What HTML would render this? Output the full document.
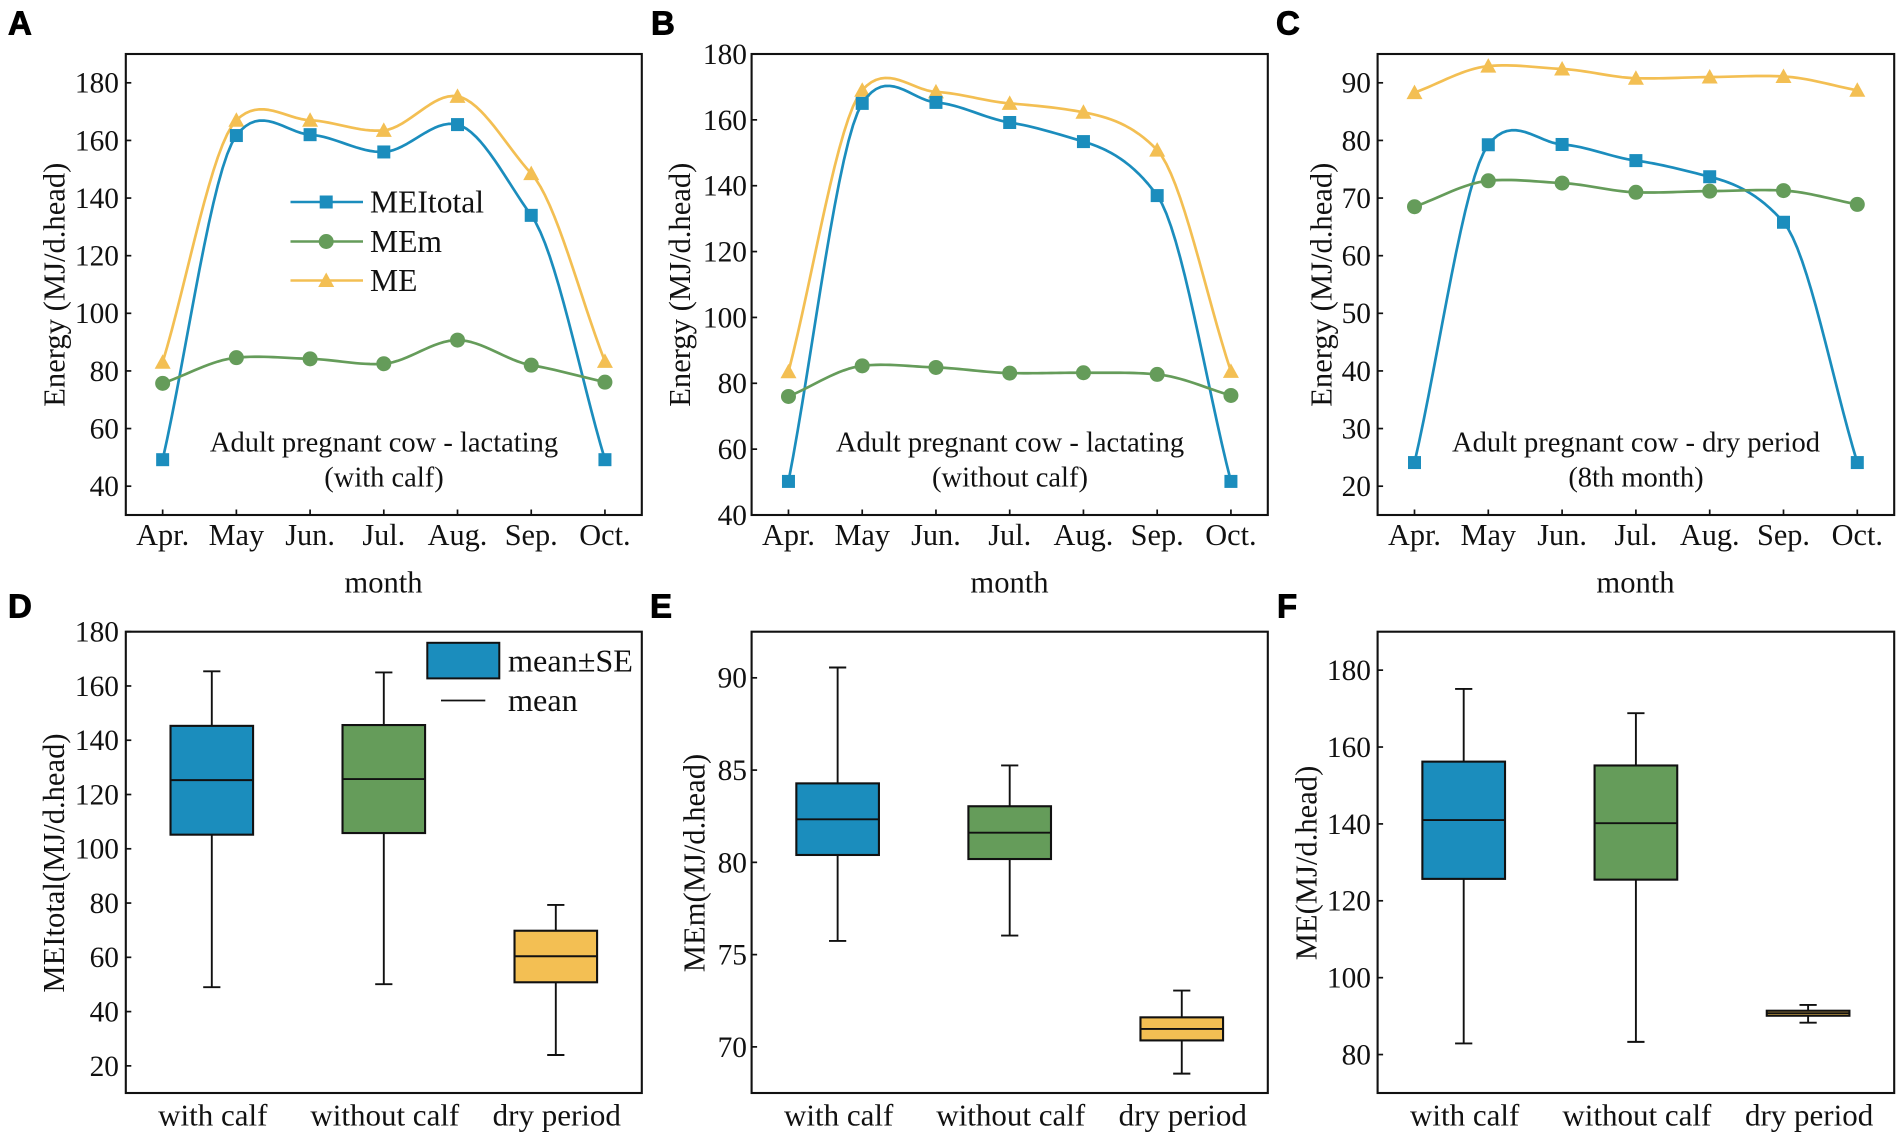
<!DOCTYPE html>
<html lang="en">
<head>
<meta charset="utf-8">
<title>Energy requirements of beef cows by month and period</title>
<style>
html,body{margin:0;padding:0;background:#fff;}
svg{display:block;}
text{font-family:"Liberation Serif",serif;fill:#111;}
.letter{font-family:"Liberation Sans",sans-serif;font-weight:700;font-size:33px;fill:#000;stroke:#000;stroke-width:.9px;}
.title{font-size:30.6px;}
.note{font-size:28.5px;text-anchor:middle;}
.legend{font-size:31.6px;}
.month{text-anchor:middle;font-size:30.6px;}
.frame{fill:none;stroke:#111;stroke-width:2.1;}
</style>
</head>
<body>
<svg id="figure" xmlns="http://www.w3.org/2000/svg" width="1901" height="1139" viewBox="0 0 1901 1139">
  <rect x="0" y="0" width="1901" height="1139" fill="#fff"/>

  <text class="letter" x="8" y="34.5">A</text>
  <text class="letter" x="651" y="34.5">B</text>
  <text class="letter" x="1276" y="34.5">C</text>
  <text class="letter" x="8" y="617.5">D</text>
  <text class="letter" x="650" y="617.5">E</text>
  <text class="letter" x="1277" y="617.5">F</text>

  <g id="panel-a"></g>
  <g id="panel-b"></g>
  <g id="panel-c"></g>
  <g id="panel-d"></g>
  <g id="panel-e"></g>
  <g id="panel-f"></g>

  <text class="title" text-anchor="middle" transform="translate(64.5 284.7) rotate(-90)">Energy (MJ/d.head)</text>
  <text class="title" text-anchor="middle" transform="translate(690 284.7) rotate(-90)">Energy (MJ/d.head)</text>
  <text class="title" text-anchor="middle" transform="translate(1331.5 284.7) rotate(-90)">Energy (MJ/d.head)</text>
  <text class="title" text-anchor="middle" transform="translate(64 863) rotate(-90)">MEItotal(MJ/d.head)</text>
  <text class="title" text-anchor="middle" transform="translate(704.5 863) rotate(-90)">MEm(MJ/d.head)</text>
  <text class="title" text-anchor="middle" transform="translate(1316.5 863) rotate(-90)">ME(MJ/d.head)</text>

  <text class="month" x="383.5" y="592.5">month</text>
  <text class="month" x="1009.5" y="592.5">month</text>
  <text class="month" x="1635.5" y="592.5">month</text>

  <text class="note" x="384" y="451.5">Adult pregnant cow - lactating</text>
  <text class="note" x="384" y="486.5">(with calf)</text>
  <text class="note" x="1010" y="451.5">Adult pregnant cow - lactating</text>
  <text class="note" x="1010" y="486.5">(without calf)</text>
  <text class="note" x="1636" y="451.5">Adult pregnant cow - dry period</text>
  <text class="note" x="1636" y="486.5">(8th month)</text>

  <g>
    <g>
      <line x1="290.5" x2="363" y1="202" y2="202" stroke="#1b8dbd" stroke-width="2.6"/>
      <rect x="319.7" y="195.5" width="13" height="13" fill="#1b8dbd"/>
      <text class="legend" x="370" y="212.5">MEItotal</text>
    </g>
    <g>
      <line x1="290.5" x2="363" y1="241.5" y2="241.5" stroke="#659c5a" stroke-width="2.6"/>
      <circle cx="326.2" cy="241.5" r="7.5" fill="#659c5a"/>
      <text class="legend" x="370" y="251.8">MEm</text>
    </g>
    <g>
      <line x1="290.5" x2="363" y1="280.5" y2="280.5" stroke="#f3bf53" stroke-width="2.6"/>
      <polygon points="326.2,272.5 334.2,287 318.2,287" fill="#f3bf53"/>
      <text class="legend" x="370" y="290.8">ME</text>
    </g>
  </g>

  <g>
    <g>
      <rect x="427.3" y="642.8" width="72" height="35.6" fill="#1b8dbd" stroke="#111" stroke-width="2"/>
      <text class="legend" x="508" y="671.5" font-size="32" style="font-size:32.2px">mean±SE</text>
    </g>
    <g>
      <line x1="441" x2="485.3" y1="700.5" y2="700.5" stroke="#111" stroke-width="1.7"/>
      <text class="legend" x="508" y="711" style="font-size:32.2px">mean</text>
    </g>
  </g>
</svg>

<script>
// ---- data: line panels ----
const months = ['Apr.', 'May', 'Jun.', 'Jul.', 'Aug.', 'Sep.', 'Oct.'];

const meiWithCalf = [49.2, 161.7, 162, 156, 165.5, 134, 49.2];
const memWithCalf = [75.7, 84.6, 84.2, 82.5, 90.7, 82, 76.1];
const meWithCalf = [83, 167, 167, 163.5, 175.3, 148.5, 83.3];
const ticksA = [40, 60, 80, 100, 120, 140, 160, 180];
const domainA = [30, 190];

const meiWithoutCalf = [50.2, 165, 165.3, 159.2, 153.4, 137, 50.2];
const memWithoutCalf = [76, 85.3, 84.8, 83.1, 83.2, 82.7, 76.3];
const meWithoutCalf = [83.5, 169, 168.5, 165, 162.3, 150.8, 83.6];
const ticksB = [40, 60, 80, 100, 120, 140, 160, 180];
const domainB = [40, 180];

const meiDryPeriod = [24.1, 79.25, 79.3, 76.5, 73.7, 65.8, 24.1];
const memDryPeriod = [68.5, 73, 72.6, 71, 71.2, 71.3, 68.9];
const meDryPeriod = [88.3, 92.9, 92.4, 90.8, 91, 91.1, 88.7];
const ticksC = [20, 30, 40, 50, 60, 70, 80, 90];
const domainC = [15, 95];

// ---- data: box panels (with calf, without calf, dry period) ----
const groups = ['with calf', 'without calf', 'dry period'];

const meiHigh = [165.4, 165, 79.3];
const meiUpper = [145.3, 145.6, 69.8];
const meiMean = [125.3, 125.7, 60.4];
const meiLower = [105.2, 105.8, 50.8];
const meiLow = [49, 50.1, 24];
const ticksD = [20, 40, 60, 80, 100, 120, 140, 160, 180];
const domainD = [10, 180];

const memHigh = [90.56, 85.25, 73.05];
const memUpper = [84.28, 83.04, 71.6];
const memMean = [82.33, 81.61, 70.97];
const memLower = [80.4, 80.18, 70.35];
const memLow = [75.74, 76.03, 68.55];
const ticksE = [70, 75, 80, 85, 90];
const domainE = [67.5, 92.5];

const meHigh = [175.1, 168.8, 92.9];
const meUpper = [156.2, 155.2, 91.4];
const meMean = [141, 140.2, 90.75];
const meLower = [125.7, 125.5, 90.1];
const meLow = [82.9, 83.3, 88.3];
const ticksF = [80, 100, 120, 140, 160, 180];
const domainF = [70, 190];

// ---- layout & style ----
const BLUE = '#1b8dbd', GREEN = '#659c5a', YELLOW = '#f3bf53', INK = '#111';
const SVGNS = 'http://www.w3.org/2000/svg';
const COL_A = {left: 125.8, right: 641.8, labelX: 119};
const COL_B = {left: 751.6, right: 1267.8, labelX: 747};
const COL_C = {left: 1377.6, right: 1894.2, labelX: 1371};
const ROW_TOP = {top: 54, bottom: 515};
const ROW_BOTTOM = {top: 631.7, bottom: 1093};
const CURVE_TENSION = 0.6;

function make(parent, tag, attrs) {
  const node = document.createElementNS(SVGNS, tag);
  for (const key in attrs) node.setAttribute(key, attrs[key]);
  parent.appendChild(node);
  return node;
}

function xBand(col, count) {
  const step = (col.right - col.left) / count;
  return function (i) { return col.left + (i + 0.5) * step; };
}

function yLinear(row, domain) {
  return function (v) {
    return row.bottom - (v - domain[0]) / (domain[1] - domain[0]) * (row.bottom - row.top);
  };
}

// cardinal Hermite curve through evenly spaced values; returns an evaluator
function smoothCurve(values) {
  const n = values.length;
  const slope = values.map(function (v, i) {
    if (i === 0) return values[1] - values[0];
    if (i === n - 1) return values[n - 1] - values[n - 2];
    return CURVE_TENSION * (values[i + 1] - values[i - 1]) / 2;
  });
  return function (t) {
    const i = Math.min(Math.floor(t), n - 2), d = t - i;
    const d2 = d * d, d3 = d2 * d;
    return (2 * d3 - 3 * d2 + 1) * values[i] + (d3 - 2 * d2 + d) * slope[i] +
      (-2 * d3 + 3 * d2) * values[i + 1] + (d3 - d2) * slope[i + 1];
  };
}

function drawAxes(g, col, row, yScale, yTicks, xScale, xLabels, labelY, labelSize, showXTicks) {
  const frame = make(g, 'rect', {
    x: col.left, y: row.top, width: col.right - col.left, height: row.bottom - row.top, 'class': 'frame'
  });
  
  

  yTicks.forEach(function (t) {
    const y = yScale(t);
    const mark = make(g, 'line', {x1: col.left, x2: col.left + 5.5, y1: y, y2: y, stroke: INK, 'stroke-width': 1.7});
    
    
    const label = make(g, 'text', {x: col.labelX, y: y + 9.9, 'text-anchor': 'end', 'font-size': 29.4});
    label.textContent = t;
    
    
  });

  xLabels.forEach(function (name, i) {
    const x = xScale(i);
    if (showXTicks) {
      const mark = make(g, 'line', {x1: x, x2: x, y1: row.bottom, y2: row.bottom - 5.5, stroke: INK, 'stroke-width': 1.7});
      
      
    }
    const label = make(g, 'text', {x: x, y: labelY, 'text-anchor': 'middle', 'font-size': labelSize});
    label.textContent = name;
    
    
  });
}

function drawSeries(g, values, xScale, yScale, color, kind) {
  const fn = smoothCurve(values);
  let d = '';
  const last = values.length - 1;
  const samples = last * 16;
  for (let s = 0; s <= samples; s++) {
    const t = s / 16;
    d += (s ? 'L' : 'M') + xScale(t).toFixed(2) + ' ' + yScale(fn(t)).toFixed(2);
  }
  const curve = make(g, 'path', {d: d, fill: 'none', stroke: color, 'stroke-width': 2.7, 'stroke-linejoin': 'round'});
  
  

  values.forEach(function (v, i) {
    const x = xScale(i), y = yScale(v);
    let mark;
    if (kind === 'square') {
      mark = make(g, 'rect', {x: x - 6.5, y: y - 6.5, width: 13, height: 13, fill: color});
    } else if (kind === 'circle') {
      mark = make(g, 'circle', {cx: x, cy: y, r: 7.5, fill: color});
    } else {
      mark = make(g, 'polygon', {
        points: x + ',' + (y - 8) + ' ' + (x + 8) + ',' + (y + 6.5) + ' ' + (x - 8) + ',' + (y + 6.5), fill: color
      });
    }
    
    
  });
}

function linePanel(id, col, domain, yTicks, mei, mem, me) {
  const g = document.getElementById(id);
  const xScale = xBand(col, months.length);
  const yScale = yLinear(ROW_TOP, domain);
  drawSeries(g, me, xScale, yScale, YELLOW, 'triangle');
  drawSeries(g, mei, xScale, yScale, BLUE, 'square');
  drawSeries(g, mem, xScale, yScale, GREEN, 'circle');
  drawAxes(g, col, ROW_TOP, yScale, yTicks, xScale, months, 545.2, 30.3, true);
}

function boxPanel(id, col, domain, yTicks, high, upper, mean, lower, low) {
  const g = document.getElementById(id);
  const xScale = xBand(col, groups.length);
  const yScale = yLinear(ROW_BOTTOM, domain);
  const fills = [BLUE, GREEN, YELLOW];
  const step = (col.right - col.left) / groups.length;
  const boxW = step * 0.48, capW = step * 0.1;
  groups.forEach(function (name, i) {
    const x = xScale(i);
    const whisker = make(g, 'line', {x1: x, x2: x, y1: yScale(high[i]), y2: yScale(low[i]), stroke: INK, 'stroke-width': 1.9});
    
    
    [high[i], low[i]].forEach(function (v) {
      const cap = make(g, 'line', {x1: x - capW / 2, x2: x + capW / 2, y1: yScale(v), y2: yScale(v), stroke: INK, 'stroke-width': 1.9});
      
      
    });
    const box = make(g, 'rect', {
      x: x - boxW / 2, y: yScale(upper[i]), width: boxW,
      height: yScale(lower[i]) - yScale(upper[i]),
      fill: fills[i], stroke: INK, 'stroke-width': 2.1
    });
    
    
    const meanLine = make(g, 'line', {x1: x - boxW / 2, x2: x + boxW / 2, y1: yScale(mean[i]), y2: yScale(mean[i]), stroke: INK, 'stroke-width': 1.9});
    
    
  });
  drawAxes(g, col, ROW_BOTTOM, yScale, yTicks, function (i) { return xScale(i) + 1; }, groups, 1125.5, 31, false);
}

linePanel('panel-a', COL_A, domainA, ticksA, meiWithCalf, memWithCalf, meWithCalf);
linePanel('panel-b', COL_B, domainB, ticksB, meiWithoutCalf, memWithoutCalf, meWithoutCalf);
linePanel('panel-c', COL_C, domainC, ticksC, meiDryPeriod, memDryPeriod, meDryPeriod);
boxPanel('panel-d', COL_A, domainD, ticksD, meiHigh, meiUpper, meiMean, meiLower, meiLow);
boxPanel('panel-e', COL_B, domainE, ticksE, memHigh, memUpper, memMean, memLower, memLow);
boxPanel('panel-f', COL_C, domainF, ticksF, meHigh, meUpper, meMean, meLower, meLow);
</script>
</body>
</html>
